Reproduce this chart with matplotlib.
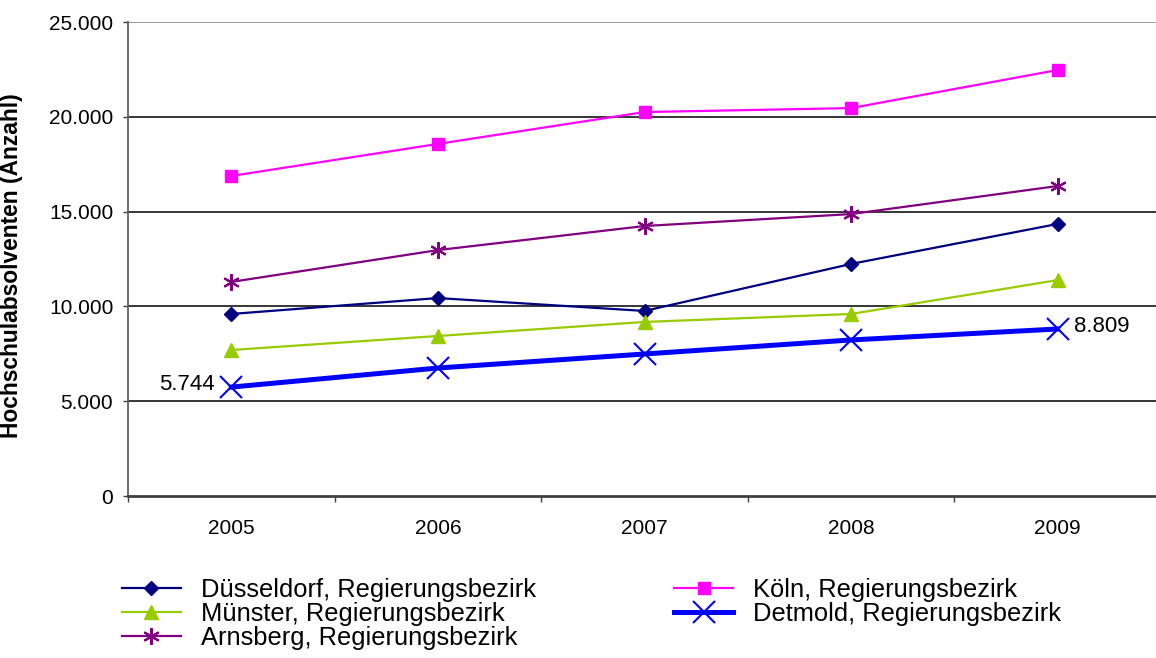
import matplotlib
matplotlib.use("Agg")
import matplotlib.pyplot as plt
import numpy as np
from matplotlib.ticker import FuncFormatter, FixedLocator

plt.rcParams['font.family'] = ['Liberation Sans', 'DejaVu Sans']

years = ["2005", "2006", "2007", "2008", "2009"]
duesseldorf = [9600, 10440, 9760, 12240, 14350]
muenster = [7700, 8440, 9180, 9600, 11390]
arnsberg = [11290, 12970, 14240, 14870, 16350]
koeln = [16880, 18570, 20250, 20460, 22470]
detmold = [5744, 6750, 7490, 8230, 8809]

labels = ["Düsseldorf, Regierungsbezirk", "Münster, Regierungsbezirk",
          "Arnsberg, Regierungsbezirk", "Köln, Regierungsbezirk",
          "Detmold, Regierungsbezirk"]

fig = plt.figure(figsize=(11.56, 6.58), dpi=100)
ax = fig.add_axes([128/1156, 1-496/658, (1161-128)/1156, (496-22)/658])

x = np.arange(len(years))
h1, = ax.plot(x, duesseldorf, color="#000080", lw=1.6, marker="D", ms=7, mfc="#000080", mec="#000080", zorder=4)
h2, = ax.plot(x, muenster, color="#99CC00", lw=1.6, marker="^", ms=10, mfc="#99CC00", mec="#99CC00", zorder=4)
h3, = ax.plot(x, arnsberg, color="#800080", lw=1.6, marker=(6, 2, 0), ms=12, mew=1.5, mec="#800080", zorder=4)
h4, = ax.plot(x, koeln, color="#FF00FF", lw=1.6, marker="s", ms=8, mfc="#FF00FF", mec="#FF00FF", zorder=4)
h5, = ax.plot(x, detmold, color="#0000FF", lw=3.6, marker="x", ms=16, mew=1.5, mec="#0000FF", zorder=5)

ax.set_xlim(-0.5, 4.5)
ax.set_ylim(0, 25000)
ax.set_yticks(np.arange(0, 25001, 5000))
ax.yaxis.set_major_formatter(FuncFormatter(lambda v, p: f"{int(v):,}".replace(",", ".")))
ax.set_xticks(x)
ax.set_xticklabels(years)
ax.xaxis.set_minor_locator(FixedLocator(np.arange(-0.5, 4.6, 1.0)))
ax.tick_params(axis='x', which='major', length=0, pad=16.5, labelsize=15)
ax.tick_params(axis='x', which='minor', length=4, width=1, color="#404040", direction='out')
ax.tick_params(axis='y', length=3.6, width=1, color="#404040", direction='out', pad=7, labelsize=15)

for v in range(5000, 25001, 5000):
    ax.axhline(v, color="black" if v < 25000 else "#808080", lw=1.1, zorder=1)

for s in ["top", "right"]:
    ax.spines[s].set_visible(False)
ax.spines["left"].set_color("#606060")
ax.spines["left"].set_linewidth(1.3)
ax.spines["bottom"].set_color("#404040")
ax.spines["bottom"].set_linewidth(2)

ax.annotate(f"{detmold[0]:,}".replace(",", "."), (x[0], detmold[0]), xytext=(-12, 2),
            textcoords="offset points", ha="right", va="center", fontsize=16)
ax.annotate(f"{detmold[-1]:,}".replace(",", "."), (x[-1], detmold[-1]), xytext=(12, 2),
            textcoords="offset points", ha="left", va="center", fontsize=16)

ax.set_ylabel("Hochschulabsolventen (Anzahl)", fontsize=16.4, fontweight="bold")
ax.yaxis.set_label_coords(-(128-23)/(1161-128), 0.487)

leg = fig.legend([h1, h2, h3, h4, h5], labels, ncol=2, loc="upper left",
                 bbox_to_anchor=(122/1156, 1-578/658), frameon=False, fontsize=18.4,
                 handlelength=2.3, handletextpad=0.8, columnspacing=5.4,
                 labelspacing=0.0, borderpad=0, borderaxespad=0)

fig.savefig("out.png", dpi=100)
